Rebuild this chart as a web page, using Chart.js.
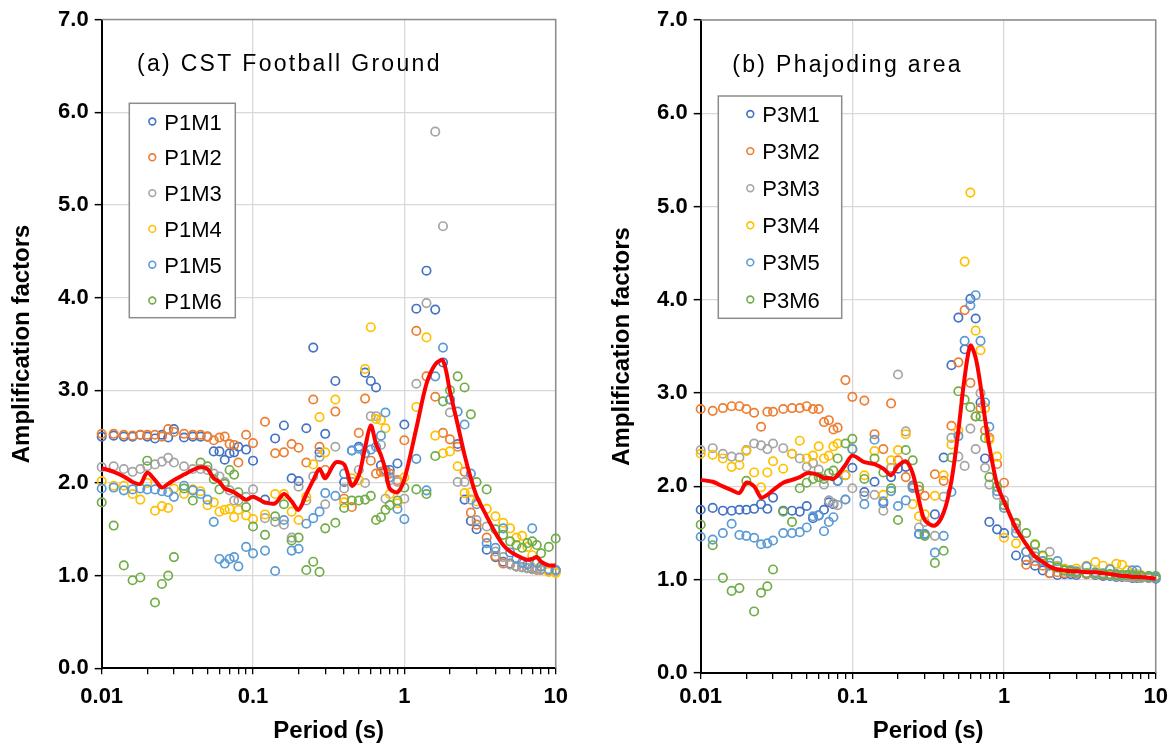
<!DOCTYPE html>
<html>
<head>
<meta charset="utf-8">
<style>
  html, body { margin: 0; padding: 0; background: #fff; }
  #wrap { position: relative; width: 1175px; height: 747px; }
  canvas { position: absolute; top: 0; }
  #chartA { left: 0; }
  #chartB { left: 600px; }
</style>
</head>
<body>
<div id="wrap">
  <canvas id="chartA" width="590" height="747"></canvas>
  <canvas id="chartB" width="575" height="747"></canvas>
</div>

<script src="https://cdn.jsdelivr.net/npm/chart.js"></script>

<script>
  // periods (s) shared by every series
  const periods = [
    0.01, 0.012, 0.014, 0.016, 0.018, 0.02, 0.0225, 0.025, 0.0275, 0.03, 0.035, 0.04, 0.045, 0.05, 0.055, 0.06, 0.065, 0.07, 0.075, 0.08, 0.09,
    0.1, 0.12, 0.14, 0.16, 0.18, 0.2, 0.225, 0.25, 0.275, 0.3, 0.35, 0.4, 0.45, 0.5, 0.55, 0.6, 0.65, 0.7, 0.75, 0.8, 0.9,
    1, 1.2, 1.4, 1.6, 1.8, 2, 2.25, 2.5, 2.75, 3, 3.5, 4, 4.5, 5, 5.5, 6, 6.5, 7, 7.5, 8, 9,
    10
  ];

  // tick positions on the period axis (labels only on decades)
  const periodTicks = [
    0.01, 0.02, 0.03, 0.04, 0.05, 0.06, 0.07, 0.08, 0.09,
    0.1, 0.2, 0.3, 0.4, 0.5, 0.6, 0.7, 0.8, 0.9,
    1, 2, 3, 4, 5, 6, 7, 8, 9, 10
  ];

  // (a) CST Football Ground
  const P1M1 = [
    2.50, 2.51, 2.50, 2.50, 2.52, 2.50, 2.48, 2.52, 2.49, 2.58, 2.49, 2.50, 2.50, 2.50, 2.34, 2.34, 2.25, 2.32, 2.33, 2.39, 2.36,
    2.24, 1.82, 2.48, 2.62, 2.05, 2.02, 2.59, 3.46, 2.33, 2.53, 3.10, 2.01, 2.35, 2.39, 3.19, 3.10, 3.03, 2.19, 2.14, 2.14, 2.21,
    2.63, 3.88, 4.29, 3.87, 3.30, 2.90, 2.42, 1.82, 1.59, 1.50, 1.28, 1.20, 1.15, 1.13, 1.10, 1.09, 1.08, 1.08, 1.07, 1.07, 1.06,
    1.06
  ];
  const P1M2 = [
    2.53, 2.53, 2.52, 2.51, 2.52, 2.52, 2.52, 2.50, 2.58, 2.55, 2.53, 2.52, 2.52, 2.50, 2.46, 2.49, 2.50, 2.42, 2.41, 2.22, 2.52,
    2.43, 2.66, 2.32, 2.33, 2.42, 2.38, 2.22, 2.90, 2.39, 2.14, 2.77, 1.83, 1.74, 2.54, 2.91, 2.24, 2.10, 2.12, 2.12, 2.10, 2.03,
    2.46, 3.64, 3.15, 2.93, 2.54, 2.47, 2.39, 2.12, 1.68, 1.55, 1.41, 1.21, 1.13, 1.12, 1.10, 1.09, 1.08, 1.07, 1.06, 1.06, 1.05,
    1.05
  ];
  const P1M3 = [
    2.17, 2.18, 2.15, 2.12, 2.15, 2.18, 2.20, 2.23, 2.27, 2.22, 2.18, 2.15, 2.15, 2.14, 2.10, 2.07, 2.01, 1.92, 1.81, 1.81, 1.85,
    1.93, 1.62, 1.58, 1.55, 1.41, 1.96, 1.81, 2.07, 2.28, 1.77, 2.39, 1.94, 2.01, 2.14, 2.00, 2.72, 2.72, 2.41, 1.83, 2.03, 2.01,
    1.83, 3.07, 3.94, 5.79, 4.77, 2.76, 2.01, 2.01, 1.82, 1.60, 1.53, 1.26, 1.20, 1.12, 1.10, 1.09, 1.08, 1.07, 1.07, 1.06, 1.06,
    1.05
  ];
  const P1M4 = [
    2.02, 1.97, 1.97, 1.88, 1.82, 2.00, 1.70, 1.75, 1.73, 1.94, 1.88, 1.93, 1.91, 1.76, 1.79, 1.69, 1.71, 1.72, 1.63, 1.71, 1.65,
    1.61, 1.66, 1.88, 1.88, 1.69, 1.60, 1.85, 2.20, 2.71, 2.33, 2.90, 1.79, 2.05, 2.03, 3.23, 3.68, 2.69, 2.68, 2.59, 1.88, 1.78,
    2.06, 2.82, 3.57, 2.51, 2.32, 2.34, 2.18, 1.89, 1.90, 1.80, 1.72, 1.64, 1.57, 1.51, 1.41, 1.43, 1.31, 1.22, 1.16, 1.10, 1.04,
    1.03
  ];
  const P1M5 = [
    1.94, 1.95, 1.92, 1.93, 1.94, 1.93, 1.93, 1.91, 1.90, 1.85, 1.97, 1.92, 1.88, 1.82, 1.58, 1.18, 1.13, 1.18, 1.20, 1.10, 1.31,
    1.24, 1.27, 1.05, 1.60, 1.27, 1.29, 1.56, 1.62, 1.69, 1.89, 1.86, 2.10, 2.35, 2.37, 2.32, 2.36, 2.39, 2.51, 2.76, 2.06, 1.72,
    1.61, 2.26, 1.92, 3.15, 3.46, 2.90, 2.77, 2.63, 2.10, 1.77, 1.35, 1.30, 1.51, 1.25, 1.18, 1.14, 1.12, 1.51, 1.14, 1.10, 1.07,
    1.06
  ];
  const P1M6 = [
    1.79, 1.54, 1.11, 0.95, 0.98, 2.24, 0.71, 0.91, 1.00, 1.20, 1.94, 1.81, 2.22, 2.18, 2.04, 1.93, 1.99, 2.14, 2.09, 1.90, 1.74,
    1.53, 1.44, 1.64, 1.77, 1.38, 1.41, 1.06, 1.15, 1.04, 1.51, 1.57, 1.73, 1.81, 1.81, 1.82, 1.86, 1.60, 1.63, 1.71, 1.76, 1.81,
    1.95, 1.93, 1.88, 2.29, 2.88, 3.00, 3.15, 3.03, 2.74, 2.01, 1.93, 1.50, 1.44, 1.37, 1.33, 1.30, 1.35, 1.37, 1.33, 1.24, 1.31,
    1.40
  ];
  const P1mean = [
    2.16, 2.12, 2.07, 2.01, 1.99, 2.11, 2.03, 1.95, 1.99, 2.03, 2.09, 2.14, 2.17, 2.15, 2.05, 2.01, 1.94, 1.92, 1.90, 1.87, 1.82,
    1.85, 1.79, 1.78, 1.88, 1.80, 1.71, 1.88, 2.03, 2.15, 2.05, 2.22, 2.20, 1.97, 2.08, 2.38, 2.62, 2.42, 2.30, 2.14, 1.94, 1.90,
    2.04, 2.59, 3.07, 3.28, 3.32, 2.99, 2.63, 2.30, 2.05, 1.86, 1.64, 1.46, 1.33, 1.26, 1.22, 1.19, 1.17, 1.18, 1.20, 1.15, 1.11,
    1.11
  ];

  // (b) Phajoding area
  const P3M1 = [
    1.75, 1.77, 1.74, 1.74, 1.75, 1.75, 1.76, 1.81, 1.76, 1.88, 1.74, 1.74, 1.73, 1.79, 1.66, 1.69, 1.75, 1.83, 1.81, 2.06, 2.12,
    2.20, 1.94, 2.05, 1.82, 2.10, 2.19, 2.21, 2.01, 1.49, 1.49, 1.70, 2.31, 3.30, 3.81, 3.47, 4.01, 3.80, 2.90, 2.30, 1.62, 1.54,
    1.50, 1.26, 1.21, 1.15, 1.10, 1.07, 1.05, 1.06, 1.06, 1.05, 1.06, 1.05, 1.04, 1.04, 1.03, 1.03, 1.03, 1.02, 1.02, 1.02, 1.02,
    1.01
  ];
  const P3M2 = [
    2.83, 2.81, 2.84, 2.86, 2.86, 2.83, 2.79, 2.64, 2.80, 2.80, 2.83, 2.84, 2.84, 2.86, 2.83, 2.83, 2.69, 2.71, 2.61, 2.63, 3.14,
    2.96, 2.92, 2.56, 2.40, 2.89, 2.28, 2.10, 2.00, 1.96, 1.90, 2.13, 2.06, 2.65, 3.33, 3.89, 3.11, 2.75, 2.84, 2.60, 2.52, 2.24,
    2.04, 1.60, 1.16, 1.20, 1.15, 1.07, 1.08, 1.07, 1.08, 1.07, 1.06, 1.06, 1.05, 1.05, 1.04, 1.04, 1.03, 1.03, 1.03, 1.02, 1.02,
    1.02
  ];
  const P3M3 = [
    2.39, 2.41, 2.35, 2.32, 2.31, 2.39, 2.46, 2.44, 2.40, 2.46, 2.41, 2.35, 2.30, 2.21, 2.25, 2.18, 2.02, 1.85, 1.82, 1.80, 1.86,
    1.98, 1.90, 1.91, 1.74, 2.20, 3.20, 2.59, 1.98, 1.56, 1.62, 1.47, 1.89, 2.52, 2.32, 2.22, 2.62, 2.40, 3.00, 2.20, 2.02, 1.91,
    1.85, 1.55, 1.30, 1.25, 1.20, 1.30, 1.15, 1.10, 1.08, 1.08, 1.07, 1.06, 1.06, 1.05, 1.04, 1.04, 1.03, 1.03, 1.03, 1.02, 1.02,
    1.02
  ];
  const P3M4 = [
    2.35, 2.34, 2.30, 2.21, 2.23, 2.38, 2.15, 1.99, 2.15, 2.27, 2.19, 2.35, 2.49, 2.30, 2.33, 2.43, 2.30, 2.33, 2.43, 2.46, 2.12,
    2.40, 2.12, 2.38, 1.91, 2.28, 2.39, 2.56, 1.81, 1.68, 1.70, 1.90, 2.12, 2.45, 2.60, 4.41, 5.15, 3.67, 3.46, 2.84, 2.50, 2.32,
    1.45, 1.39, 1.30, 1.37, 1.25, 1.15, 1.14, 1.12, 1.10, 1.12, 1.15, 1.19, 1.15, 1.12, 1.17, 1.16, 1.10, 1.07, 1.06, 1.05, 1.04,
    1.03
  ];
  const P3M5 = [
    1.46, 1.43, 1.50, 1.60, 1.48, 1.47, 1.45, 1.38, 1.39, 1.42, 1.50, 1.50, 1.51, 1.56, 1.68, 1.69, 1.52, 1.62, 1.67, 2.06, 1.86,
    2.40, 1.81, 2.50, 1.84, 1.95, 1.79, 1.85, 1.99, 1.49, 1.49, 1.29, 1.47, 1.94, 2.54, 3.56, 3.94, 4.05, 3.56, 2.90, 2.64, 1.95,
    1.77, 1.50, 1.30, 1.29, 1.20, 1.15, 1.20, 1.10, 1.10, 1.09, 1.14, 1.08, 1.07, 1.11, 1.06, 1.05, 1.05, 1.10, 1.10, 1.04, 1.03,
    1.02
  ];
  const P3M6 = [
    1.59, 1.37, 1.02, 0.88, 0.91, 2.06, 0.66, 0.86, 0.93, 1.11, 1.73, 1.62, 1.98, 2.04, 2.08, 2.10, 2.08, 2.14, 2.17, 2.30, 2.46,
    2.51, 2.08, 2.30, 2.15, 1.98, 1.64, 2.39, 2.28, 2.00, 1.47, 1.18, 1.31, 2.31, 3.02, 2.93, 2.85, 2.75, 2.75, 2.52, 2.10, 2.00,
    1.80, 1.61, 1.50, 1.38, 1.26, 1.18, 1.13, 1.10, 1.09, 1.08, 1.07, 1.07, 1.06, 1.06, 1.05, 1.05, 1.05, 1.05, 1.04, 1.04, 1.04,
    1.04
  ];
  const P3mean = [
    2.07, 2.05, 2.00, 1.96, 1.93, 2.04, 2.00, 1.88, 1.91, 1.96, 2.04, 2.07, 2.10, 2.14, 2.14, 2.12, 2.09, 2.09, 2.08, 2.12, 2.23,
    2.33, 2.26, 2.24, 2.19, 2.12, 2.22, 2.27, 2.14, 1.85, 1.64, 1.58, 1.72, 2.06, 2.60, 3.17, 3.51, 3.38, 3.08, 2.72, 2.43, 2.02,
    1.84, 1.55, 1.38, 1.25, 1.19, 1.14, 1.11, 1.10, 1.09, 1.09, 1.08, 1.08, 1.07, 1.06, 1.05, 1.04, 1.04, 1.03, 1.03, 1.03, 1.02,
    1.01
  ];

  const seriesColors = ['#4472C4', '#ED7D31', '#A5A5A5', '#FFC000', '#5B9BD5', '#70AD47'];
  const FONT = '"Liberation Sans", Arial, sans-serif';

  Chart.defaults.font.family = FONT;
  Chart.defaults.color = '#000';

  const isDecade = v => Math.abs(Math.log10(v) - Math.round(Math.log10(v))) < 1e-9;

  // frame, caption and boxed legend drawn straight onto the canvas
  const decor = {
    id: 'decor',
    beforeDatasetsDraw(chart) {
      const {ctx, chartArea: a} = chart;
      ctx.save();
      ctx.strokeStyle = '#8c8c8c';
      ctx.lineWidth = 1.5;
      ctx.beginPath();
      ctx.moveTo(a.left, a.top);
      ctx.lineTo(a.right, a.top);
      ctx.lineTo(a.right, a.bottom);
      ctx.stroke();
      ctx.restore();
    },
    afterDatasetsDraw(chart, args, o) {
      const {ctx} = chart;
      ctx.save();
      ctx.fillStyle = '#000';
      ctx.textAlign = 'left';
      ctx.textBaseline = 'alphabetic';
      ctx.font = '23px ' + FONT;
      ctx.letterSpacing = '2.3px';
      ctx.fillText(o.caption, o.captionX, o.captionY);
      ctx.letterSpacing = '0px';

      const b = o.box;
      ctx.fillStyle = '#fff';
      ctx.fillRect(b.x, b.y, b.w, b.h);
      ctx.strokeStyle = '#8c8c8c';
      ctx.lineWidth = 1.5;
      ctx.strokeRect(b.x, b.y, b.w, b.h);

      ctx.font = '22px ' + FONT;
      chart.data.datasets.slice(0, 6).forEach((d, i) => {
        const y = b.row0 + i * b.rowGap;
        ctx.beginPath();
        ctx.arc(b.markX, y, 3.4, 0, Math.PI * 2);
        ctx.strokeStyle = d.borderColor;
        ctx.lineWidth = 1.6;
        ctx.stroke();
        ctx.fillStyle = '#000';
        ctx.fillText(d.label, b.textX, y + 8);
      });
      ctx.restore();
    }
  };

  function scatterSet(label, values, color, order) {
    return {
      label,
      data: periods.map((p, i) => ({x: p, y: values[i]})),
      borderColor: color,
      backgroundColor: 'rgba(0,0,0,0)',
      pointRadius: 4.2,
      pointHoverRadius: 4.2,
      pointBorderWidth: 1.7,
      showLine: false,
      order,
      clip: false
    };
  }

  function makeChart(id, names, series, mean, cfg) {
    const datasets = series.map((s, i) => scatterSet(names[i], s, seriesColors[i], 6 - i));
    datasets.push({
      label: 'mean',
      type: 'line',
      data: periods.map((p, i) => ({x: p, y: mean[i]})),
      borderColor: '#FF0000',
      borderWidth: 4,
      pointRadius: 0,
      tension: 0.3,
      fill: false,
      showLine: true,
      order: 0,
      clip: false
    });

    return new Chart(document.getElementById(id), {
      type: 'scatter',
      data: {datasets},
      options: {
        responsive: false,
        animation: false,
        events: [],
        layout: {padding: {left: 0, top: cfg.padTop, right: cfg.padRight, bottom: 0}},
        plugins: {
          legend: {display: false},
          tooltip: {enabled: false},
          decor: {caption: cfg.caption, captionX: cfg.captionX, captionY: cfg.captionY, box: cfg.box}
        },
        scales: {
          x: {
            type: 'logarithmic',
            min: 0.01,
            max: 10,
            afterFit(s) { s.height = cfg.xHeight; },
            afterBuildTicks(s) { s.ticks = periodTicks.map(v => ({value: v})); },
            ticks: {
              autoSkip: false,
              maxRotation: 0,
              padding: cfg.xTickPad,
              font: {size: 22, weight: 'bold'},
              callback: v => isDecade(v) ? String(v) : ''
            },
            grid: {
              color: c => (c.tick && isDecade(c.tick.value)) ? '#d9d9d9' : 'rgba(0,0,0,0)',
              lineWidth: 1.3,
              tickColor: '#000',
              tickLength: 6,
              tickWidth: 1.3
            },
            border: {color: '#000', width: 2},
            title: {display: true, text: 'Period (s)', font: {size: 24, weight: 'bold'}, padding: {top: 0, bottom: 1.6}}
          },
          y: {
            min: 0,
            max: 7,
            afterFit(s) { s.width = cfg.yWidth; },
            ticks: {
              stepSize: 1,
              padding: 6,
              font: {size: 22, weight: 'bold'},
              callback: v => v.toFixed(1)
            },
            grid: {
              color: c => (c.tick && c.tick.value === 0) ? 'rgba(0,0,0,0)' : '#d9d9d9',
              lineWidth: 1.3,
              tickColor: '#000',
              tickLength: 7,
              tickWidth: 1.5
            },
            border: {color: '#000', width: 2},
            title: {display: true, text: 'Amplification factors', font: {size: 24, weight: 'bold'}, padding: {top: 7.6, bottom: 0}}
          }
        }
      },
      plugins: [decor]
    });
  }

  makeChart('chartA',
    ['P1M1', 'P1M2', 'P1M3', 'P1M4', 'P1M5', 'P1M6'],
    [P1M1, P1M2, P1M3, P1M4, P1M5, P1M6], P1mean,
    {
      padTop: 19.5, padRight: 34.3, yWidth: 101.7, xHeight: 78.7, xTickPad: 9.5,
      caption: '(a) CST Football Ground', captionX: 137, captionY: 70.5,
      box: {x: 129.3, y: 103.3, w: 106, h: 214.4, row0: 121.5, rowGap: 35.8, markX: 152.3, textX: 164.3}
    });

  makeChart('chartB',
    ['P3M1', 'P3M2', 'P3M3', 'P3M4', 'P3M5', 'P3M6'],
    [P3M1, P3M2, P3M3, P3M4, P3M5, P3M6], P3mean,
    {
      padTop: 20, padRight: 19.3, yWidth: 100.7, xHeight: 74, xTickPad: 4.8,
      caption: '(b) Phajoding area', captionX: 132.3, captionY: 71.5,
      box: {x: 118.3, y: 96, w: 123.4, h: 222.3, row0: 114, rowGap: 37.1, markX: 150.3, textX: 162.3}
    });
</script>
</body>
</html>
